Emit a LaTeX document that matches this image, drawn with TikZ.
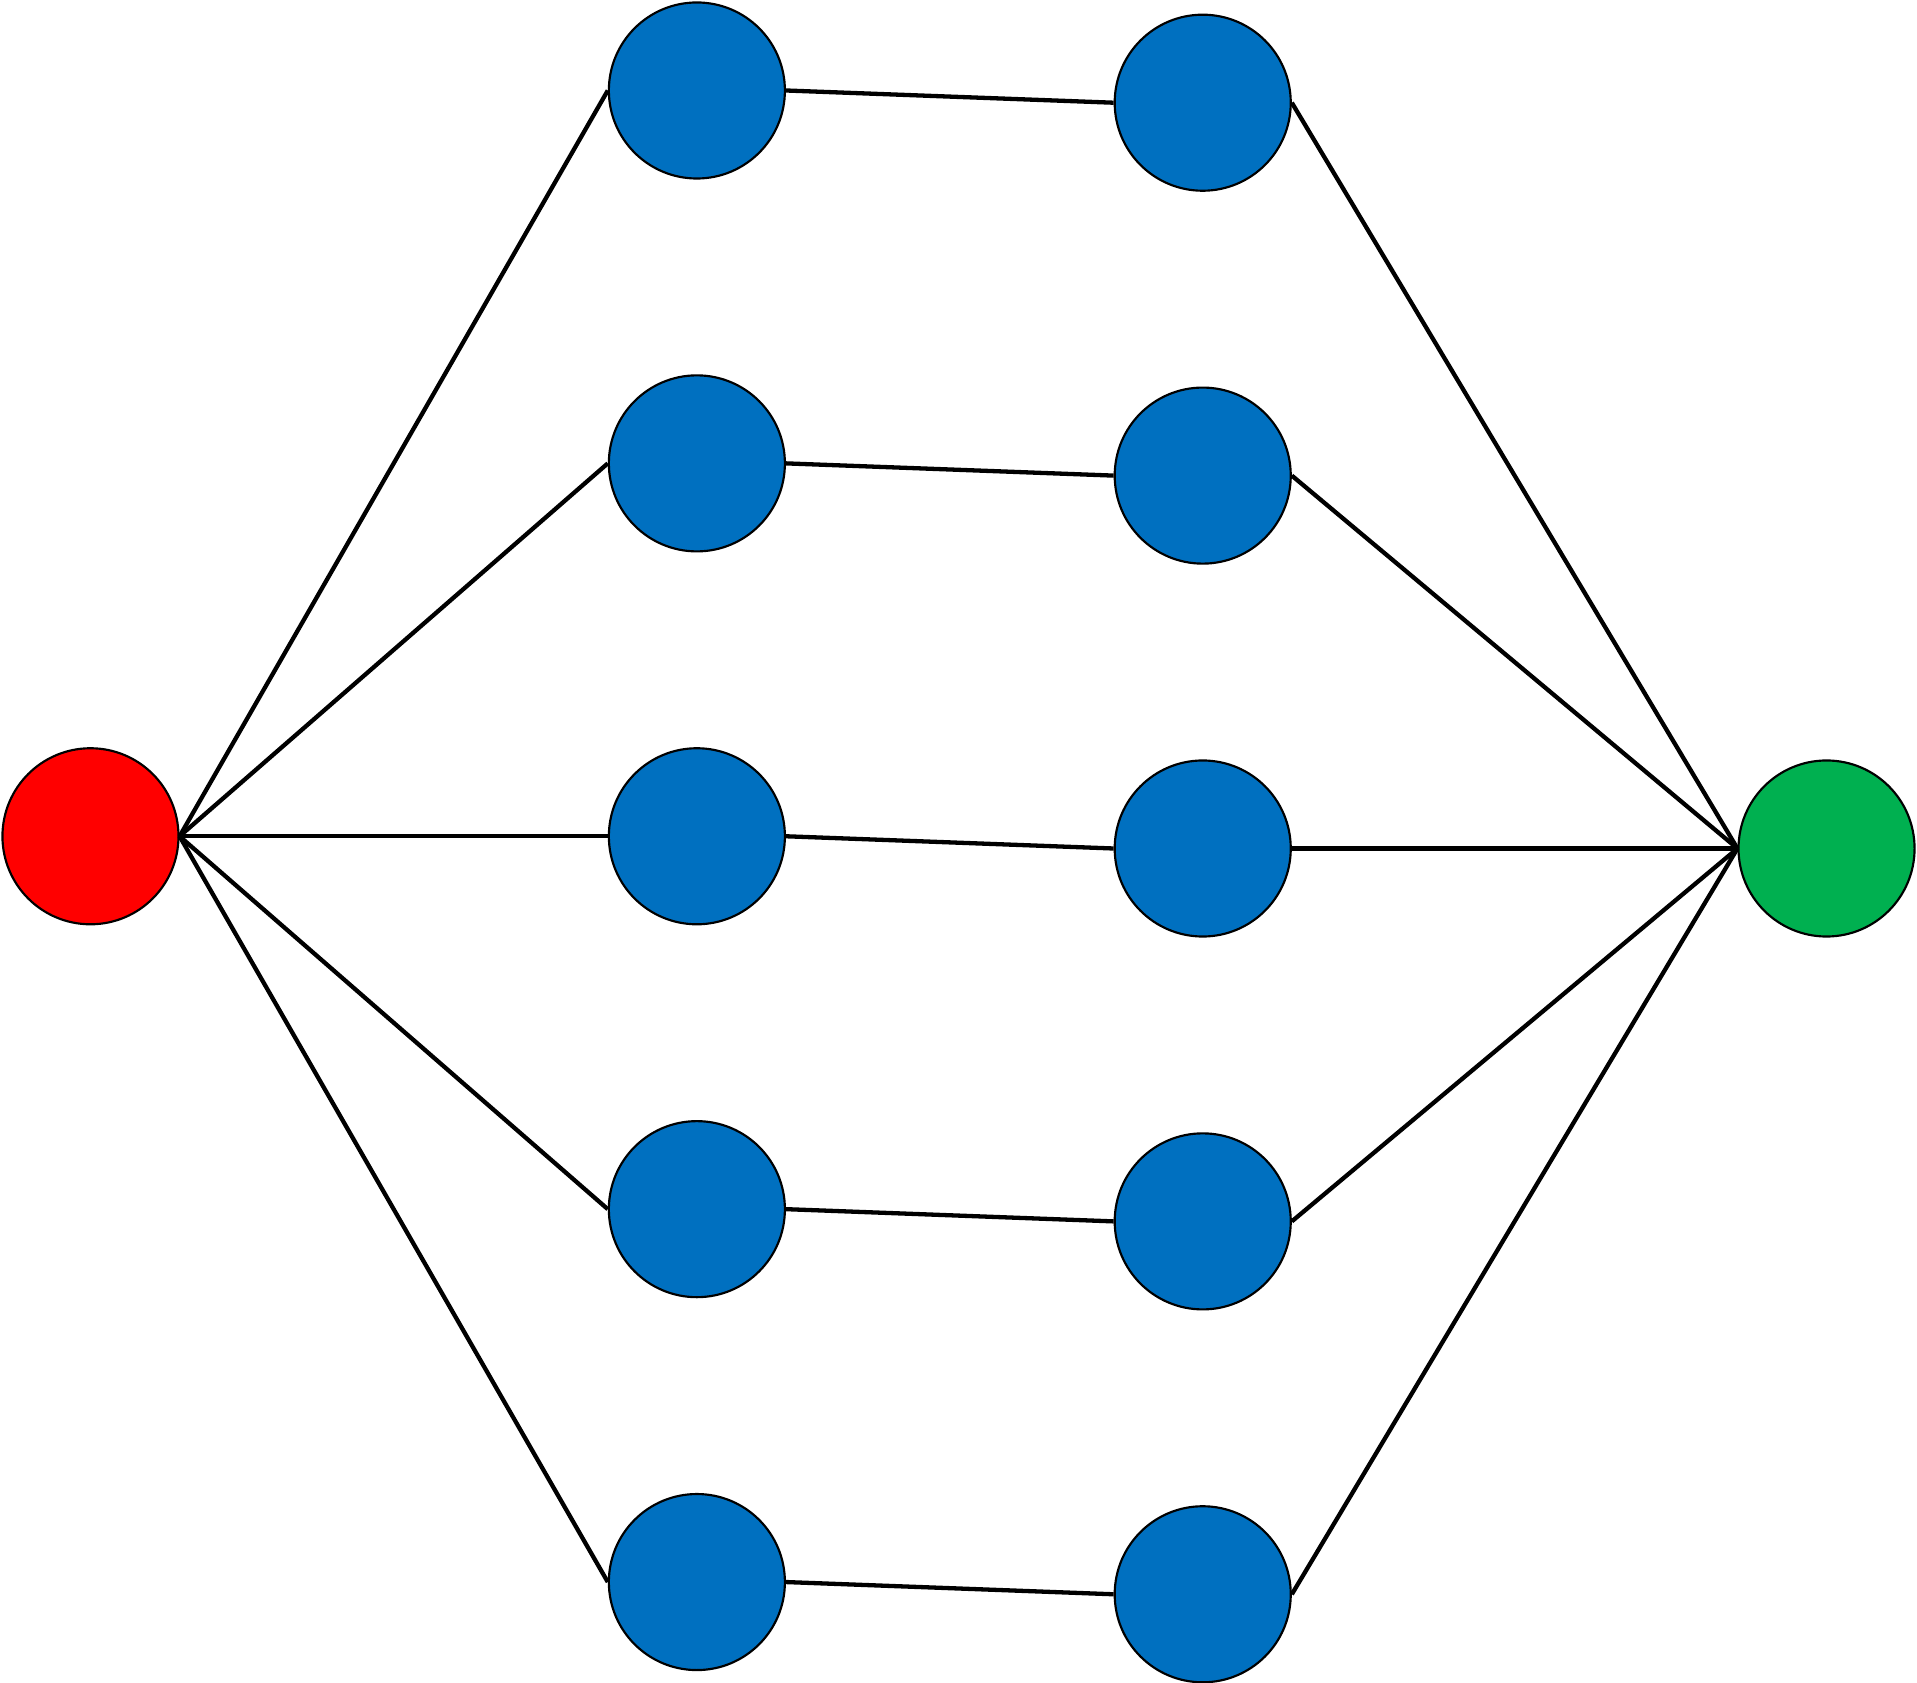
\documentclass[tikz,border=0pt]{standalone}
\usepackage{tikz}
\usetikzlibrary{positioning}
\definecolor{nodeblue}{HTML}{0070C0}
\definecolor{nodegreen}{HTML}{00B050}
\definecolor{nodered}{HTML}{FF0000}
\tikzstyle{vertex}=[circle, draw=black, line width=0.5pt, minimum size=1.44cm, inner sep=0pt]
\tikzstyle{edge}=[line width=1pt]
\begin{document}
\begin{tikzpicture}[]

        \useasboundingbox (0,0) rectangle (15.68,-13.76);

        \node(source)[vertex, fill=nodered] at (0.74,-6.84) {};
        \node(sink)[vertex, fill=nodegreen] at (14.94,-6.94) {};

        \foreach \i/\y in {1/0.74,2/3.79,3/6.84,4/9.89,5/12.94}{
            \node(left\i)[vertex, fill=nodeblue] at (5.70,-\y) {};
            \node(right\i)[vertex, fill=nodeblue, right=2.68cm of left\i, yshift=-0.1cm] {};
            \draw [edge] (source.east) -- (left\i.west);
            \draw [edge] (left\i.east) -- (right\i.west);
            \draw [edge] (right\i.east) -- (sink.west);
        };

    \end{tikzpicture}
\end{document}
